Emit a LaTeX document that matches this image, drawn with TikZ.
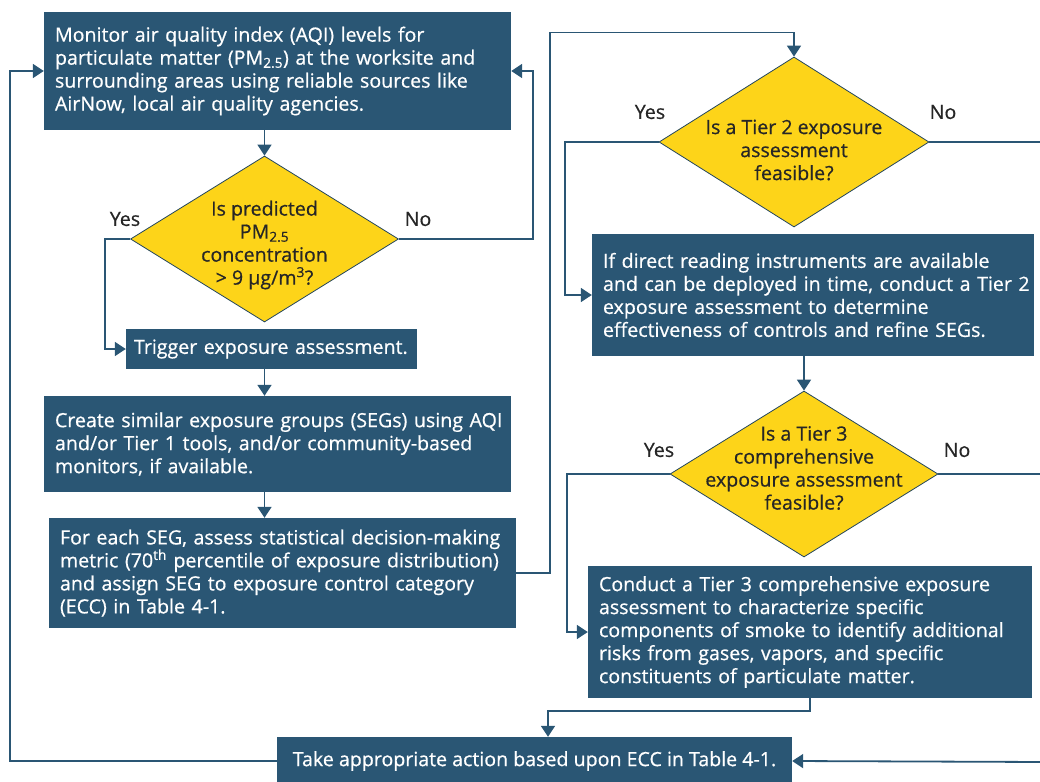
\documentclass[tikz,border=0pt]{standalone}
\usepackage{fontspec}
\setmainfont{Open Sans}[FakeBold=0.6]
\usetikzlibrary{shapes.geometric,arrows.meta,calc}
\definecolor{boxblue}{HTML}{2A5674}
\definecolor{diayellow}{HTML}{FDD419}
\definecolor{txtdark}{HTML}{262626}
\newcommand{\lin}[1]{\mbox{#1}}
\begin{document}
\begin{tikzpicture}[x=1pt,y=-1pt,
  every node/.style={font=\fontsize{19.6}{23}\selectfont},
  procbox/.style={fill=boxblue, text=white, align=left, inner xsep=11pt, inner ysep=0pt, anchor=center},
  decdia/.style={diamond, draw=boxblue!80!black, line width=0.8pt, fill=diayellow, inner sep=0pt},
  diatext/.style={text=txtdark, align=center, inner sep=0pt},
  lab/.style={text=txtdark, inner sep=0pt},
  conn/.style={draw=boxblue, line width=1.8pt},
  arr/.style={conn, -{Triangle[width=14pt,length=11pt]}}
]
\useasboundingbox (0,0) rectangle (1040,781);

% process boxes
\node[procbox, minimum width=467pt, minimum height=118pt, text width=445pt] (A) at (277.5,71)
 {\lin{Monitor air quality index (AQI) levels for}\\\lin{particulate matter (PM\textsubscript{2.5}) at the worksite and}\\\lin{surrounding areas using reliable sources like}\\\lin{AirNow, local air quality agencies.}};
\node[procbox, minimum width=291pt, minimum height=40pt, text width=275pt, inner xsep=8pt] (trig) at (271.5,349)
 {\lin{Trigger exposure assessment.}};
\node[procbox, minimum width=467pt, minimum height=96pt, text width=445pt] (seg) at (277.5,444)
 {\lin{Create similar exposure groups (SEGs) using AQI}\\\lin{and/or Tier 1 tools, and/or community-based}\\\lin{monitors, if available.}};
\node[procbox, minimum width=467pt, minimum height=110pt, text width=445pt] (ecc) at (282.5,573)
 {\lin{For each SEG, assess statistical decision-making}\\\lin{metric (70\textsuperscript{th} percentile of exposure distribution)}\\\lin{and assign SEG to exposure control category}\\\lin{(ECC) in Table 4-1.}};
\node[procbox, minimum width=442pt, minimum height=122pt, text width=420pt] (t2) at (813,295)
 {\lin{If direct reading instruments are available}\\\lin{and can be deployed in time, conduct a Tier 2}\\\lin{exposure assessment to determine}\\\lin{effectiveness of controls and refine SEGs.}};
\node[procbox, minimum width=444pt, minimum height=132pt, text width=422pt] (t3) at (810,632)
 {\lin{Conduct a Tier 3 comprehensive exposure}\\\lin{assessment to characterize specific}\\\lin{components of smoke to identify additional}\\\lin{risks from gases, vapors, and specific}\\\lin{constituents of particulate matter.}};
\node[procbox, minimum width=515pt, minimum height=48pt, inner xsep=0pt, align=center] (fin) at (534.5,761)
 {Take appropriate action based upon ECC in Table 4-1.};

% decisions
\node[decdia, minimum width=268pt, minimum height=166pt] (d1) at (264.5,239) {};
\node[diatext] (d1t) at (264.5,245) {Is predicted\\PM\textsubscript{2.5}\\concentration\\> 9 µg/m\textsuperscript{3}?};
\node[decdia, minimum width=270pt, minimum height=170pt] (d2) at (794,142) {};
\node[diatext] (d2t) at (794,150) {Is a Tier 2 exposure\\assessment\\feasible?};
\node[decdia, minimum width=268pt, minimum height=166pt] (d3) at (804,474) {};
\node[diatext] (d3t) at (804,468) {Is a Tier 3\\comprehensive\\exposure assessment\\feasible?};

% labels
\node[lab] (y1) at (125,219) {Yes};
\node[lab] (n1) at (418,219) {No};
\node[lab] (y2) at (650,112) {Yes};
\node[lab] (n2) at (943,112) {No};
\node[lab] (y3) at (659,450) {Yes};
\node[lab] (n3) at (957,450) {No};

% off-page coordinates on the right
\coordinate (r2) at (1046,142);
\coordinate (r3) at (1046,474);
\coordinate (r4) at (1046,762);

% connectors
\draw[arr] (d1.north |- A.south) -- (d1.north);
\draw[arr] (d1.west) -- ++(-25,0) |- (trig.west);
\draw[arr] (d1.east) -| ([xshift=22pt]A.east) -- (A.east);
\draw[arr] (d1.south |- trig.south) -- (d1.south |- seg.north);
\draw[arr] (d1.south |- seg.south) -- (d1.south |- ecc.north);
\draw[arr] (ecc.east) -- ++(34,0) |- ([yshift=24pt]d2.north) -- (d2.north);
\draw[arr] (d2.west) -- ++(-94,0) |- (t2.west);
\draw[conn] (d2.east) -- (r2);
\draw[arr] (d3.north |- t2.south) -- (d3.north);
\draw[arr] (d3.west) -- ++(-103,0) |- (t3.west);
\draw[conn] (d3.east) -- (r3);
\draw[arr] (t3.south) -- ++(0,13) -| ([xshift=13.5pt]fin.north);
\draw[arr] (r4) -- (fin.east);
\draw[arr] (fin.west) -| ([xshift=-34pt]A.west) -- (A.west);
\end{tikzpicture}
\end{document}
